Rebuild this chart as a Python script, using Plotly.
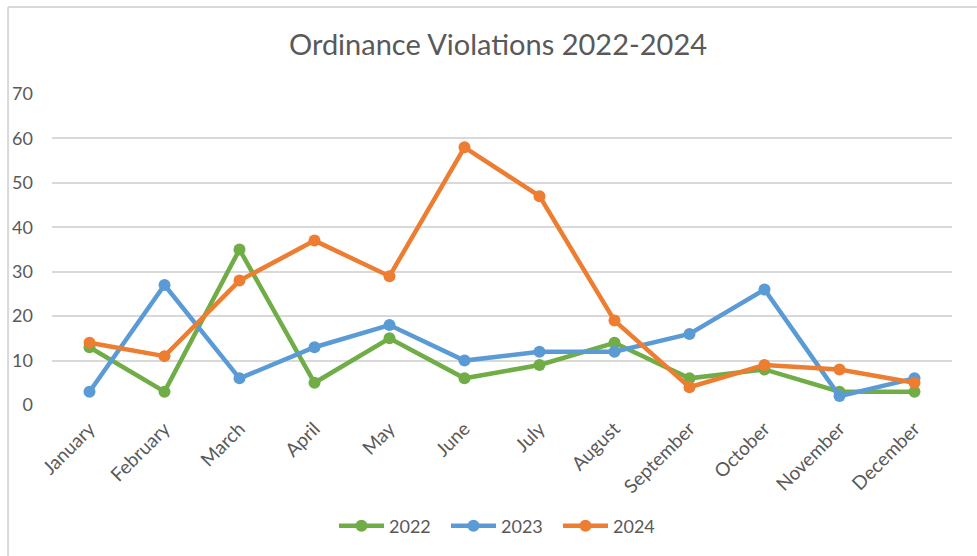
import plotly.graph_objects as go

months = ["January", "February", "March", "April", "May", "June", "July",
          "August", "September", "October", "November", "December"]
v2022 = [13, 3, 35, 5, 15, 6, 9, 14, 6, 8, 3, 3]
v2023 = [3, 27, 6, 13, 18, 10, 12, 12, 16, 26, 2, 6]
v2024 = [14, 11, 28, 37, 29, 58, 47, 19, 4, 9, 8, 5]
series_names = ["2022", "2023", "2024"]
colors = ["#70AD47", "#5B9BD5", "#ED7D31"]

FONT = "Lato"
TXT = "#595959"

fig = go.Figure()
for name, vals, c in zip(series_names, [v2022, v2023, v2024], colors):
    fig.add_trace(go.Scatter(
        x=months, y=vals, name=name, mode="lines+markers",
        line=dict(color=c, width=4.5),
        marker=dict(color=c, size=12),
    ))

L, R, T, B = 50, 25, 94, 151
W, H = 977, 556
pw, ph = W - L - R, H - T - B

def px_x(x):
    return (x - L) / pw

def px_y(y):
    return (H - B - y) / ph

fig.update_layout(
    width=W, height=H,
    margin=dict(l=L, r=R, t=T, b=B, pad=0),
    paper_bgcolor="white", plot_bgcolor="white",
    title=dict(text="Ordinance Violations 2022-2024", xref="paper",
               x=px_x(497), xanchor="center",
               y=1 - 45 / H, yanchor="middle",
               font=dict(family=FONT, size=29, color=TXT)),
    font=dict(family=FONT, color=TXT),
    legend=dict(orientation="h", x=0.5, xanchor="center",
                y=px_y(526), yanchor="middle",
                font=dict(family=FONT, size=18, color=TXT),
                itemwidth=45, entrywidth=52, tracegroupgap=0),
    showlegend=True,
    xaxis=dict(showgrid=False, showline=False, zeroline=False,
               tickangle=-45, tickfont=dict(family=FONT, size=19, color=TXT),
               ticks="", ticklabelstandoff=8, range=[-0.5, 11.5]),
    yaxis=dict(range=[0, 70], dtick=10, showgrid=True, gridcolor="#D9D9D9",
               gridwidth=1.5, zeroline=False, showline=False, ticks="",
               tickfont=dict(family=FONT, size=18, color=TXT),
               ticklabelstandoff=18),
    shapes=[
        dict(type="line", xref="paper", yref="paper",
             x0=px_x(6), x1=px_x(977), y0=px_y(7), y1=px_y(7),
             line=dict(color="#D9D9D9", width=2)),
        dict(type="line", xref="paper", yref="paper",
             x0=px_x(6), x1=px_x(6), y0=px_y(7), y1=px_y(556),
             line=dict(color="#D9D9D9", width=2)),
    ],
)

fig.write_html("out.html", config={"displayModeBar": False},
               post_script="document.body.style.margin='0px';")
